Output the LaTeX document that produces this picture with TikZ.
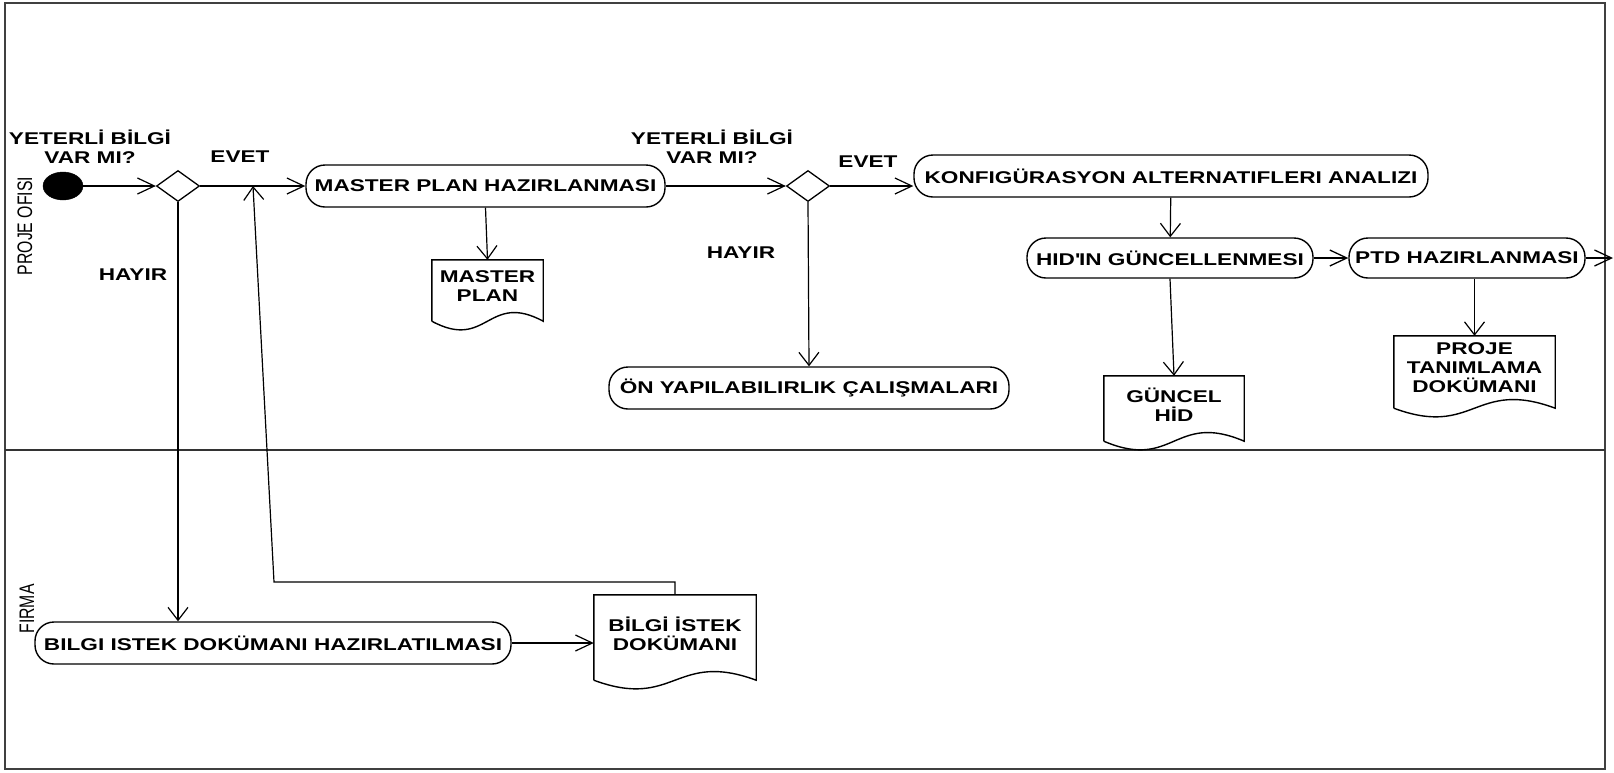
\documentclass[tikz,border=0pt]{standalone}
\usepackage{fontspec}
\setmainfont{Liberation Sans}[FakeStretch=1.33]
\newfontfamily\lanefont{Liberation Sans}
\usetikzlibrary{arrows.meta,shapes.geometric,calc}
\tikzset{
  txt/.style={font=\bfseries\fontsize{17}{19}\selectfont},
  act/.style={txt, draw, line width=1.4pt, rounded corners=19pt, minimum height=42pt, inner sep=0pt},
  dec/.style={draw, diamond, line width=1.3pt, minimum width=43pt, minimum height=31pt, inner sep=0pt},
  startnode/.style={ellipse, fill=black, draw=black, minimum width=40pt, minimum height=28pt, inner sep=0pt},
  docbox/.style={txt, align=center, inner sep=0pt, text depth=8pt},
  docline/.style={line width=1.4pt},
  lbl/.style={txt, align=center, inner sep=0pt},
  lanelbl/.style={font=\lanefont\fontsize{15.8}{18}\selectfont, inner sep=0pt},
  flow/.style={draw, line width=1.2pt, -{Straight Barb[length=17pt,width=16pt,line width=1.2pt]}},
  vflow/.style={draw, line width=1.2pt, -{Straight Barb[length=13pt,width=20pt,line width=1.2pt]}},
  dflow/.style={draw, line width=2.6pt, -{Straight Barb[length=17pt,width=16pt,line width=1.3pt]}},
  frameline/.style={draw=black!75, line width=2pt},
  lanediv/.style={draw=black!80, line width=2.5pt}
}
\newcommand\docout[1]{%
  \draw[docline] (#1.south west) -- (#1.north west) -- (#1.north east) -- (#1.south east)
    .. controls ($(#1.south)+(0,-30)$) and ($(#1.south)+(0,30)$) .. (#1.south west);}
\begin{document}
\begin{tikzpicture}[x=1pt,y=-1pt]
\useasboundingbox (0,0) rectangle (1614,772);
\fill[white] (0,0) rectangle (1614,772);
\draw[frameline] (5,3) rectangle (1605,769);
\draw[lanediv] (5,450) -- (1605,450);

% lane labels
\node[lanelbl, rotate=90] (lane1) at (25,226) {\scalebox{1}[1.33]{PROJE OFISI}};
\node[lanelbl, rotate=90] (lane2) at (27,609) {\scalebox{1}[1.33]{FIRMA}};

% nodes
\node[startnode] (start) at (63,186) {};
\node[dec] (d1) at (178,186) {};
\node[act, minimum width=359pt] (mp) at (485.5,186) {MASTER PLAN HAZIRLANMASI};
\node[docbox, minimum width=111pt, minimum height=61pt] (mpdoc) at (487.5,290.5) {MASTER\\PLAN};
\node[dec] (d2) at (808,186) {};
\node[act, minimum width=400pt] (on) at (809,388) {ÖN YAPILABILIRLIK ÇALIŞMALARI};
\node[act, minimum width=514pt] (konf) at (1171,176) {KONFIGÜRASYON ALTERNATIFLERI ANALIZI};
\node[act, minimum width=286pt, minimum height=40pt] (hid) at (1170,258) {HID\textquotesingle IN GÜNCELLENMESI};
\node[act, minimum width=236pt, minimum height=40pt] (ptd) at (1467,258) {PTD HAZIRLANMASI};
\node[docbox, minimum width=140pt, minimum height=65pt] (gdoc) at (1174,408.5) {GÜNCEL\\HİD};
\node[docbox, minimum width=161pt, minimum height=72pt] (pdoc) at (1474.5,372) {PROJE\\TANIMLAMA\\DOKÜMANI};
\node[act, minimum width=476pt] (bilgi) at (273,643) {BILGI ISTEK DOKÜMANI HAZIRLATILMASI};
\node[docbox, minimum width=162pt, minimum height=85pt] (bidoc) at (675,637.5) {BİLGİ İSTEK\\DOKÜMANI};
\docout{mpdoc}
\docout{gdoc}
\docout{pdoc}
\docout{bidoc}

% labels
\node[lbl] (q1) at (90,147) {YETERLİ BİLGİ\\VAR MI?};
\node[lbl] (e1) at (240,157) {EVET};
\node[lbl] (h1) at (133,275) {HAYIR};
\node[lbl] (q2) at (712,147) {YETERLİ BİLGİ\\VAR MI?};
\node[lbl] (e2) at (868,162) {EVET};
\node[lbl] (h2) at (741,253) {HAYIR};

% helper coordinates
\coordinate (rtcorner) at (274,582);
\coordinate (rtend) at (253,186);
\coordinate (outend) at (1613,258);

% connectors
\draw[flow] (start) -- (d1);
\draw[flow] (d1) -- (mp);
\draw[flow] (mp) -- (d2);
\draw[flow] (d2) -- (konf.west |- d2);
\draw[vflow] (konf) -- (hid);
\draw[dflow] (hid) -- (ptd);
\draw[dflow] (ptd.east) -- (outend);
\draw[vflow] (mp.south) -- (mpdoc.north);
\draw[vflow] (hid.south) -- (gdoc.north);
\draw[vflow] (pdoc.north |- ptd.south) -- (pdoc.north);
\draw[vflow] (d2.south) -- (on.north);
\draw[vflow] (d1.south) -- (d1.south |- bilgi.north);
\draw[flow] (bilgi) -- (bilgi -| bidoc.west);
\draw[vflow] (bidoc.north) |- (rtcorner) -- (rtend);
\end{tikzpicture}
\end{document}
